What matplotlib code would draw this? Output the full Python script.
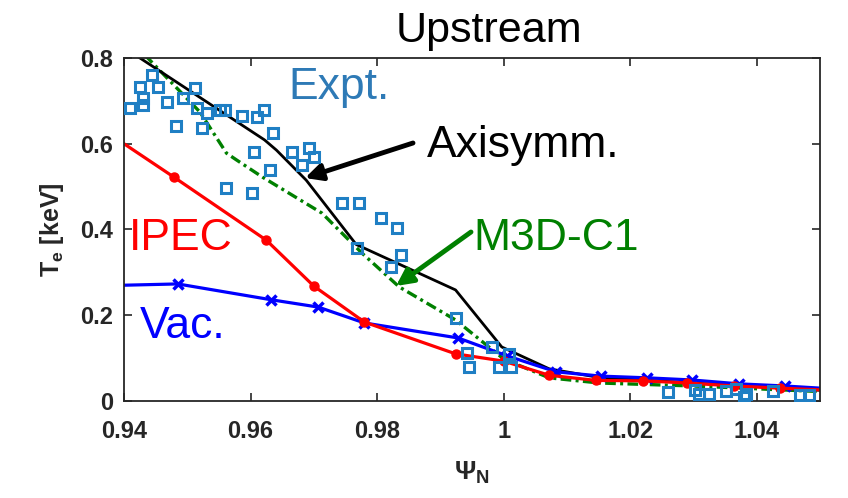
import matplotlib
matplotlib.use('Agg')
import matplotlib.pyplot as plt

plt.rcParams['font.family'] = ['Liberation Sans', 'DejaVu Sans']
plt.rcParams['mathtext.fontset'] = 'custom'
plt.rcParams['mathtext.rm'] = 'Liberation Sans'
plt.rcParams['mathtext.bf'] = 'Liberation Sans:bold'

# experimental points
expt_x = [0.9409, 0.9425, 0.9430, 0.9430, 0.9444, 0.9454, 0.9468, 0.9483, 0.9493,
          0.9512, 0.9515, 0.9524, 0.9531, 0.9551, 0.9559, 0.9562, 0.9587, 0.9603,
          0.9606, 0.9611, 0.9622, 0.9630, 0.9635, 0.9666, 0.9682, 0.9693, 0.9701,
          0.9745, 0.9772, 0.9806, 0.9831, 0.9769, 0.9838, 0.9822, 0.9924, 0.9942,
          0.9945, 0.9981, 0.9992, 1.0009, 1.0011, 1.0260, 1.0302, 1.0309, 1.0324,
          1.0351, 1.0367, 1.0380, 1.0383, 1.0425, 1.0468, 1.0483]
expt_y = [0.683, 0.732, 0.707, 0.690, 0.760, 0.732, 0.697, 0.641, 0.707,
          0.730, 0.683, 0.637, 0.672, 0.679, 0.679, 0.497, 0.665, 0.485,
          0.581, 0.662, 0.679, 0.539, 0.625, 0.581, 0.550, 0.590, 0.569,
          0.462, 0.462, 0.427, 0.404, 0.357, 0.341, 0.313, 0.194, 0.112,
          0.079, 0.126, 0.079, 0.110, 0.079, 0.021, 0.026, 0.016, 0.016,
          0.023, 0.028, 0.009, 0.016, 0.023, 0.014, 0.014]

# axisymmetric model
axi_x = [0.9420, 0.9622, 0.9641, 0.9688, 0.9767, 0.9924, 0.9997, 1.0072, 1.0150, 1.0300, 1.0500]
axi_y = [0.805, 0.609, 0.585, 0.515, 0.365, 0.259, 0.126, 0.075, 0.055, 0.042, 0.025]

# M3D-C1
m3d_x = [0.9433, 0.9520, 0.9562, 0.9578, 0.9619, 0.9713, 0.9776, 0.9835, 0.9924,
         1.0000, 1.0072, 1.0151, 1.0300, 1.0500]
m3d_y = [0.807, 0.674, 0.578, 0.562, 0.522, 0.438, 0.345, 0.266, 0.189,
         0.098, 0.054, 0.042, 0.035, 0.022]

# IPEC
ipec_x = [0.9400, 0.9479, 0.9625, 0.9700, 0.9780, 0.9924, 1.0000, 1.0072, 1.0146,
          1.0220, 1.0290, 1.0364, 1.0436, 1.0500]
ipec_y = [0.600, 0.522, 0.375, 0.268, 0.184, 0.110, 0.093, 0.060, 0.048,
          0.047, 0.042, 0.035, 0.030, 0.026]
ipec_mark = list(range(1, 13))

# vacuum
vac_x = [0.9400, 0.9485, 0.9633, 0.9707, 0.9780, 0.9928, 1.0006, 1.0083, 1.0154,
         1.0227, 1.0298, 1.0372, 1.0444, 1.0500]
vac_y = [0.270, 0.273, 0.236, 0.219, 0.182, 0.147, 0.105, 0.068, 0.058,
         0.054, 0.049, 0.040, 0.035, 0.030]
vac_mark = list(range(1, 13))

xticks = [0.94, 0.96, 0.98, 1.0, 1.02, 1.04]
xticklabels = ['0.94', '0.96', '0.98', '1', '1.02', '1.04']
yticks = [0, 0.2, 0.4, 0.6, 0.8]
yticklabels = ['0', '0.2', '0.4', '0.6', '0.8']

fig = plt.figure(figsize=(8.48, 4.98), dpi=100)
ax = fig.add_axes([0.1462, 0.1948, 0.8208, 0.6888])

ax.plot(m3d_x, m3d_y, color='#008000', lw=2.4, ls=(0, (3.2, 1.3, 0.9, 1.3)))
ax.plot(axi_x, axi_y, color='black', lw=2.0)
ax.plot(vac_x, vac_y, color='#0000ff', lw=2.3, marker='x', ms=7, mew=2.5,
        markevery=vac_mark)
ax.plot(ipec_x, ipec_y, color='#ff0000', lw=2.3, marker='o', ms=6.5,
        markevery=ipec_mark)
ax.plot(expt_x, expt_y, ls='none', marker='s', ms=7.5, mfc='none', mew=2.2,
        mec='#1f7fc4', zorder=5)

ax.set_xlim(0.94, 1.05)
ax.set_ylim(0, 0.8)
ax.set_xticks(xticks)
ax.set_xticklabels(xticklabels)
ax.set_yticks(yticks)
ax.set_yticklabels(yticklabels)
ax.tick_params(direction='in', length=6, width=1.2, top=True, right=True,
               labelsize=17, colors='#262626')
ax.tick_params(axis='x', pad=14)
ax.tick_params(axis='y', pad=8)
for lab in ax.get_xticklabels() + ax.get_yticklabels():
    lab.set_fontweight('bold')
for sp in ax.spines.values():
    sp.set_color('#262626')
    sp.set_linewidth(1.3)

ax.set_xlabel(r'$\mathbf{\Psi_N}$', fontsize=19, color='#262626', labelpad=12)
ax.set_ylabel(r'$\mathbf{T_e}$ [keV]', fontsize=18, fontweight='bold',
              color='#262626', labelpad=10)

fig.text(0.467, 0.915, 'Upstream', fontsize=31, color='black')
fig.text(0.340, 0.801, 'Expt.', fontsize=32, color='#2e7ab6')
fig.text(0.504, 0.685, 'Axisymm.', fontsize=32, color='black')
fig.text(0.558, 0.498, 'M3D-C1', fontsize=32, color='#008000')
fig.text(0.152, 0.498, 'IPEC', fontsize=32, color='#ff0000')
fig.text(0.165, 0.321, 'Vac.', fontsize=32, color='#0000ff')

ax.annotate('', xy=(305 / 848, 1 - 178 / 498), xycoords='figure fraction',
            xytext=(413 / 848, 1 - 143 / 498), textcoords='figure fraction',
            arrowprops=dict(arrowstyle='-|>', color='black', lw=3.5,
                            mutation_scale=25, shrinkA=0, shrinkB=0))
ax.annotate('', xy=(396 / 848, 1 - 286 / 498), xycoords='figure fraction',
            xytext=(471 / 848, 1 - 232 / 498), textcoords='figure fraction',
            arrowprops=dict(arrowstyle='-|>', color='#008000', lw=3.5,
                            mutation_scale=25, shrinkA=0, shrinkB=0))

plt.savefig('out.png', dpi=100)
